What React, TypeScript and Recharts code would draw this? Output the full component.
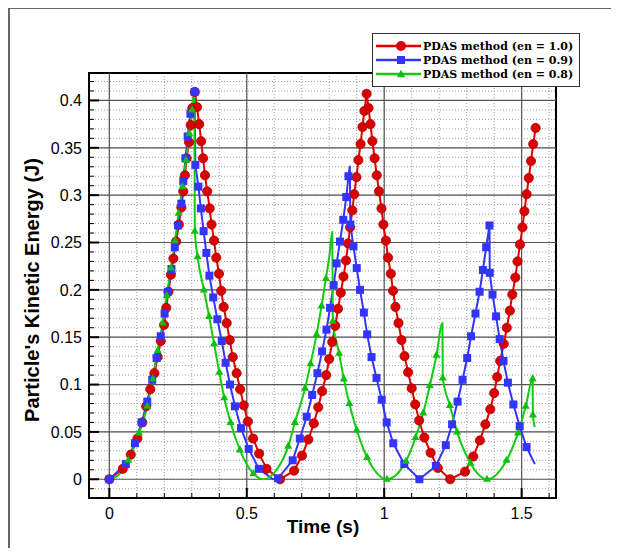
import React from 'react';
import {
  LineChart,
  Line,
  XAxis,
  YAxis,
  CartesianGrid,
  ReferenceLine,
  ReferenceArea,
} from 'recharts';

// [time, energy, marker?]
const redPoints: number[][] = [
  [0, 0], [0.049, 0.011], [0.078, 0.026], [0.102, 0.043], [0.12, 0.06], [0.134, 0.077],
  [0.149, 0.095], [0.164, 0.112], [0.176, 0.129], [0.187, 0.146], [0.199, 0.163], [0.207, 0.181],
  [0.215, 0.198], [0.224, 0.216], [0.233, 0.233], [0.243, 0.251], [0.253, 0.269], [0.262, 0.287],
  [0.269, 0.304], [0.275, 0.321], [0.281, 0.339], [0.29, 0.356], [0.296, 0.374], [0.302, 0.392],
  [0.311, 0.409], [0.319, 0.393], [0.327, 0.375], [0.334, 0.357], [0.341, 0.339], [0.348, 0.321],
  [0.356, 0.304], [0.365, 0.286], [0.372, 0.269], [0.381, 0.252], [0.389, 0.234], [0.399, 0.217],
  [0.407, 0.199], [0.416, 0.182], [0.427, 0.165], [0.438, 0.147], [0.449, 0.129], [0.463, 0.112],
  [0.476, 0.095], [0.489, 0.078], [0.504, 0.061], [0.523, 0.043], [0.545, 0.027], [0.572, 0.011],
  [0.621, 0], [0.672, 0.009], [0.701, 0.025], [0.724, 0.042], [0.744, 0.059], [0.76, 0.076],
  [0.774, 0.093], [0.789, 0.11], [0.8, 0.127], [0.811, 0.145], [0.822, 0.162], [0.832, 0.18],
  [0.842, 0.197], [0.852, 0.214], [0.861, 0.231], [0.869, 0.249], [0.876, 0.266], [0.884, 0.284],
  [0.891, 0.301], [0.899, 0.319], [0.906, 0.337], [0.914, 0.354], [0.921, 0.372], [0.928, 0.389],
  [0.936, 0.407], [0.943, 0.392], [0.95, 0.375], [0.957, 0.357], [0.965, 0.339], [0.973, 0.321],
  [0.981, 0.304], [0.99, 0.286], [0.997, 0.269], [1.006, 0.252], [1.014, 0.234], [1.024, 0.217],
  [1.032, 0.199], [1.041, 0.182], [1.052, 0.165], [1.063, 0.147], [1.074, 0.13], [1.087, 0.113],
  [1.1, 0.096], [1.113, 0.079], [1.127, 0.062], [1.146, 0.044], [1.169, 0.028], [1.195, 0.012],
  [1.24, 0], [1.294, 0.008], [1.324, 0.024], [1.348, 0.041], [1.368, 0.058], [1.386, 0.074],
  [1.4, 0.091], [1.411, 0.108], [1.422, 0.125], [1.435, 0.143], [1.446, 0.16], [1.457, 0.178],
  [1.466, 0.195], [1.477, 0.213], [1.485, 0.23], [1.494, 0.248], [1.503, 0.266], [1.51, 0.283],
  [1.518, 0.301], [1.526, 0.318], [1.534, 0.336], [1.542, 0.354], [1.551, 0.371],
];

const bluePoints: number[][] = [
  [0, 0], [0.06, 0.016], [0.093, 0.038], [0.118, 0.06], [0.138, 0.082], [0.156, 0.105],
  [0.172, 0.128], [0.187, 0.151], [0.201, 0.175], [0.213, 0.198], [0.226, 0.222], [0.238, 0.245],
  [0.25, 0.268], [0.262, 0.291], [0.269, 0.315], [0.277, 0.339], [0.285, 0.362], [0.295, 0.386],
  [0.31, 0.409], [0.313, 0.332], [0.324, 0.309], [0.333, 0.286], [0.343, 0.262], [0.353, 0.239],
  [0.364, 0.215], [0.378, 0.192], [0.393, 0.169], [0.409, 0.146], [0.423, 0.123], [0.439, 0.1],
  [0.457, 0.077], [0.479, 0.054], [0.507, 0.032], [0.544, 0.011], [0.595, 0, 0], [0.614, 0.001],
  [0.667, 0.02], [0.693, 0.043], [0.718, 0.066], [0.738, 0.089], [0.757, 0.112], [0.774, 0.135],
  [0.79, 0.158], [0.803, 0.181], [0.816, 0.205], [0.827, 0.228], [0.839, 0.251], [0.851, 0.274],
  [0.862, 0.298], [0.87, 0.32], [0.875, 0.331, 0], [0.877, 0.269], [0.888, 0.246], [0.9, 0.223],
  [0.912, 0.2], [0.926, 0.176], [0.938, 0.153], [0.954, 0.129], [0.972, 0.107], [0.991, 0.084],
  [1.009, 0.06], [1.033, 0.038], [1.073, 0.016], [1.128, 0], [1.188, 0.014], [1.224, 0.036],
  [1.247, 0.058], [1.267, 0.082], [1.285, 0.105], [1.302, 0.128], [1.316, 0.151], [1.332, 0.175],
  [1.347, 0.198], [1.359, 0.221], [1.371, 0.245], [1.383, 0.268], [1.384, 0.218], [1.394, 0.195],
  [1.407, 0.172], [1.42, 0.148], [1.434, 0.125], [1.45, 0.102], [1.47, 0.079], [1.493, 0.056],
  [1.518, 0.034], [1.548, 0.016, 0],
];

const greenPoints: number[][] = [
  [0, 0, 0], [0.035, 0.005, 0], [0.069, 0.02], [0.108, 0.049], [0.138, 0.077], [0.158, 0.106],
  [0.176, 0.136], [0.194, 0.165], [0.209, 0.194], [0.224, 0.223], [0.239, 0.252], [0.252, 0.281],
  [0.266, 0.309], [0.279, 0.337], [0.291, 0.365], [0.301, 0.39], [0.309, 0.409, 0], [0.311, 0.262],
  [0.321, 0.235], [0.344, 0.2], [0.363, 0.172], [0.381, 0.143], [0.4, 0.113], [0.418, 0.086],
  [0.441, 0.06], [0.475, 0.031], [0.524, 0.006], [0.562, 0, 0], [0.606, 0.009, 0], [0.651, 0.035],
  [0.675, 0.06], [0.712, 0.096], [0.732, 0.122], [0.754, 0.153], [0.772, 0.183], [0.788, 0.212],
  [0.801, 0.237, 0], [0.811, 0.261, 0], [0.813, 0.167], [0.836, 0.133], [0.853, 0.106],
  [0.873, 0.08], [0.9, 0.052], [0.938, 0.023], [0.975, 0.006, 0], [1.01, 0], [1.045, 0.005, 0],
  [1.079, 0.019], [1.114, 0.044], [1.142, 0.07], [1.166, 0.099], [1.19, 0.131], [1.212, 0.165, 0],
  [1.213, 0.107], [1.239, 0.078], [1.265, 0.05], [1.314, 0.017], [1.34, 0.006, 0], [1.374, 0],
  [1.405, 0.004, 0], [1.445, 0.02], [1.487, 0.049], [1.515, 0.077], [1.54, 0.106], [1.541, 0.068],
  [1.548, 0.055, 0],
];

const xMajor = [0, 0.5, 1, 1.5];
const xLabels = ['0', '0.5', '1', '1.5'];
const yMajor = [0, 0.05, 0.1, 0.15, 0.2, 0.25, 0.3, 0.35, 0.4];
const yLabels = ['0', '0.05', '0.1', '0.15', '0.2', '0.25', '0.3', '0.35', '0.4'];
const xMinor = Array.from({ length: 17 }, (_, i) => i / 10);
const yMinor = Array.from({ length: 44 }, (_, i) => (i - 1) / 100);

const X_DOMAIN: [number, number] = [-0.074, 1.625];
const Y_DOMAIN: [number, number] = [-0.0198, 0.429];

const RED = '#e00000';
const BLUE = '#3434ff';
const GREEN = '#12cc12';
const AXIS_FONT = '"Liberation Sans", Arial, Helvetica, sans-serif';

const toRows = (pts: number[][]) =>
  pts.map(([t, e, m = 1]) => ({ t, e, m }));

const majorIndex = (v: number, list: number[]) =>
  list.findIndex((m) => Math.abs(m - v) < 1e-6);

function XTick(props: any) {
  const { x, y, payload } = props;
  const i = majorIndex(payload.value, xMajor);
  const axisY = y - 9;
  return (
    <g>
      <line x1={x} x2={x} y1={axisY} y2={axisY - (i >= 0 ? 10 : 5)} stroke="#000" strokeWidth={i >= 0 ? 2 : 1} />
      {i >= 0 && (
        <text x={x} y={y} dy="0.78em" textAnchor="middle" fontSize={16} fontFamily={AXIS_FONT} fill="#000">
          {xLabels[i]}
        </text>
      )}
    </g>
  );
}

function YTick(props: any) {
  const { x, y, payload } = props;
  const i = majorIndex(payload.value, yMajor);
  const axisX = x + 7;
  return (
    <g>
      <line x1={axisX} x2={axisX + (i >= 0 ? 10 : 5)} y1={y} y2={y} stroke="#000" strokeWidth={i >= 0 ? 2 : 1} />
      {i >= 0 && (
        <text x={x} y={y} dy="0.36em" textAnchor="end" fontSize={16} fontFamily={AXIS_FONT} fill="#000">
          {yLabels[i]}
        </text>
      )}
    </g>
  );
}

const circleDot = (p: any) =>
  p.payload.m ? (
    <circle key={p.index} cx={p.cx} cy={p.cy} r={4.6} fill="#d80000" stroke="#b00000" strokeWidth={0.8} />
  ) : (
    <g key={p.index} />
  );

const squareDot = (p: any) =>
  p.payload.m ? (
    <rect key={p.index} x={p.cx - 4} y={p.cy - 4} width={8} height={8} fill={BLUE} />
  ) : (
    <g key={p.index} />
  );

const triPath = (cx: number, cy: number, s: number) =>
  `M${cx},${cy - s}L${cx + s * 0.87},${cy + s * 0.55}L${cx - s * 0.87},${cy + s * 0.55}Z`;

const triangleDot = (p: any) =>
  p.payload.m ? (
    <path key={p.index} d={triPath(p.cx, p.cy, 4.6)} fill="#0cc00c" />
  ) : (
    <g key={p.index} />
  );

const legendItems = [
  { name: 'PDAS method (en = 1.0)', color: RED, shape: 'circle' },
  { name: 'PDAS method (en = 0.9)', color: BLUE, shape: 'square' },
  { name: 'PDAS method (en = 0.8)', color: GREEN, shape: 'triangle' },
];

function LegendBox() {
  return (
    <div
      style={{
        position: 'absolute',
        left: 364,
        top: 25,
        width: 206,
        height: 47,
        border: '1px solid #333',
        background: '#fff',
        paddingTop: 5,
        boxSizing: 'content-box',
      }}
    >
      {legendItems.map((it) => (
        <div key={it.name} style={{ display: 'flex', alignItems: 'center', height: 14 }}>
          <svg width={50} height={14} style={{ display: 'block' }}>
            <line x1={3} x2={48} y1={7} y2={7} stroke={it.color} strokeWidth={2.5} />
            {it.shape === 'circle' && <circle cx={28} cy={7} r={5} fill="#d80000" />}
            {it.shape === 'square' && <rect x={24} y={3} width={8} height={8} fill={BLUE} />}
            {it.shape === 'triangle' && <path d={triPath(28, 7.5, 4.8)} fill="#0cc00c" />}
          </svg>
          <span
            style={{
              fontFamily: '"DejaVu Serif", "Liberation Serif", serif',
              fontWeight: 'bold',
              fontSize: 11,
              color: '#000',
              whiteSpace: 'nowrap',
            }}
          >
            {it.name}
          </span>
        </div>
      ))}
    </div>
  );
}

export default function App() {
  return (
    <div style={{ position: 'relative', width: 603, height: 540 }}>
      <div style={{ position: 'absolute', left: 0, top: -1, width: 611, height: 1.5, background: '#666' }} />
      <div style={{ position: 'absolute', left: 0, top: -1, width: 1.5, height: 549, background: '#666' }} />
      <LineChart width={603} height={540} margin={{ top: 65, right: 55, left: 0, bottom: 0 }}>
        <CartesianGrid stroke="#a0a0a0" strokeDasharray="1 2" strokeWidth={1} />
        <XAxis
          type="number"
          dataKey="t"
          domain={X_DOMAIN}
          allowDataOverflow
          ticks={xMinor}
          interval={0}
          height={50}
          tickSize={0}
          tickMargin={9}
          tickLine={false}
          axisLine={{ stroke: '#000', strokeWidth: 2 }}
          tick={(p: any) => <XTick {...p} />}
        />
        <YAxis
          type="number"
          dataKey="e"
          domain={Y_DOMAIN}
          allowDataOverflow
          ticks={yMinor}
          interval={0}
          width={81}
          tickSize={0}
          tickMargin={7}
          tickLine={false}
          axisLine={{ stroke: '#000', strokeWidth: 2 }}
          tick={(p: any) => <YTick {...p} />}
        />
        {yMajor.map((v) => (
          <ReferenceLine key={'hy' + v} y={v} stroke="#555" strokeWidth={1.2} />
        ))}
        {xMajor.map((v) => (
          <ReferenceLine key={'vx' + v} x={v} stroke="#555" strokeWidth={1.2} />
        ))}
        <Line
          data={toRows(redPoints)}
          dataKey="e"
          type="linear"
          stroke={RED}
          strokeWidth={2}
          dot={circleDot}
          activeDot={false}
          isAnimationActive={false}
        />
        <Line
          data={toRows(bluePoints)}
          dataKey="e"
          type="linear"
          stroke={BLUE}
          strokeWidth={2}
          dot={squareDot}
          activeDot={false}
          isAnimationActive={false}
        />
        <Line
          data={toRows(greenPoints)}
          dataKey="e"
          type="monotone"
          stroke={GREEN}
          strokeWidth={2}
          dot={triangleDot}
          activeDot={false}
          isAnimationActive={false}
        />
        <ReferenceArea
          x1={X_DOMAIN[0]}
          x2={X_DOMAIN[1]}
          y1={Y_DOMAIN[0]}
          y2={Y_DOMAIN[1]}
          fill="none"
          fillOpacity={0}
          stroke="#000"
          strokeWidth={2}
        />
      </LineChart>
      <div
        style={{
          position: 'absolute',
          left: 24,
          top: 282,
          transform: 'translate(-50%, -50%) rotate(-90deg)',
          fontFamily: AXIS_FONT,
          fontWeight: 'bold',
          fontSize: 20,
          whiteSpace: 'nowrap',
          color: '#000',
        }}
      >
        Particle's Kinetic Energy (J)
      </div>
      <div
        style={{
          position: 'absolute',
          left: 315,
          top: 519,
          transform: 'translate(-50%, -50%)',
          fontFamily: AXIS_FONT,
          fontWeight: 'bold',
          fontSize: 19,
          whiteSpace: 'nowrap',
          color: '#000',
        }}
      >
        Time (s)
      </div>
      <LegendBox />
    </div>
  );
}
